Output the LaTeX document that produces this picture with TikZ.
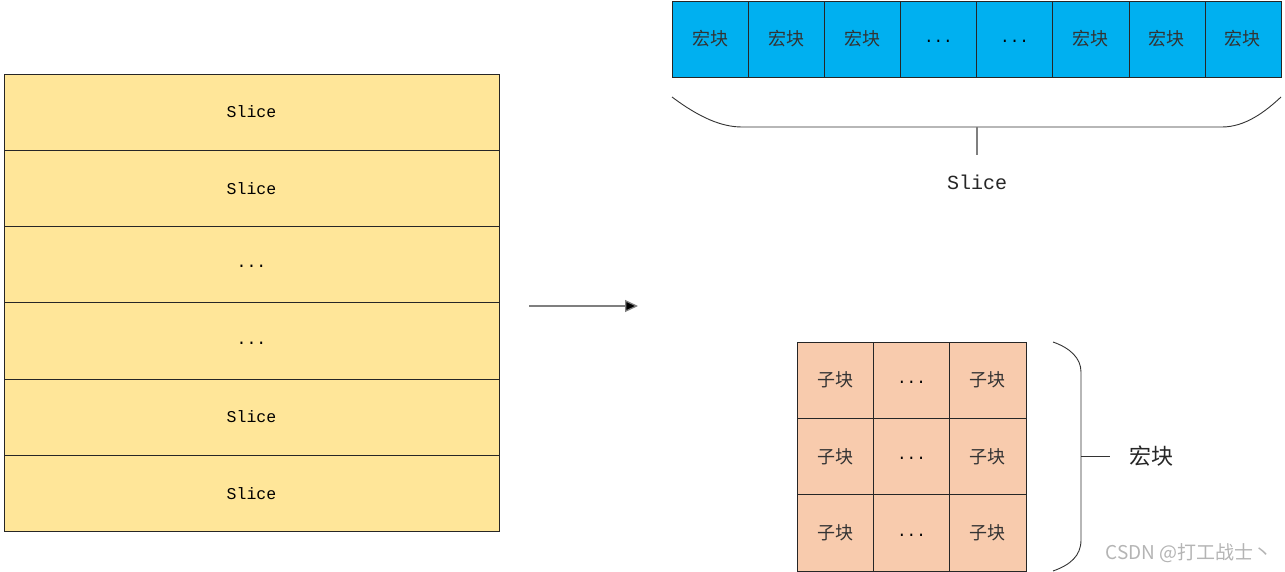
\documentclass[tikz,border=0pt]{standalone}
\usepackage{fontspec}
\newfontfamily\cjk{Noto Sans CJK SC}
\setmonofont{Liberation Mono}
\usetikzlibrary{arrows.meta}
\definecolor{sliceyellow}{HTML}{FFE699}
\definecolor{mbblue}{HTML}{00B0F0}
\definecolor{sborange}{HTML}{F8CBAD}
\definecolor{edgegray}{HTML}{7F7F7F}
\definecolor{wmgray}{HTML}{B4B4B4}
\tikzset{
  slicebox/.style={draw=black!85, fill=sliceyellow, minimum width=495pt, minimum height=76.2pt, inner sep=0pt, font=\ttfamily\fontsize{16.5}{16.5}\selectfont},
  mbbox/.style={draw=black!85, fill=mbblue, minimum width=76.125pt, minimum height=76pt, inner sep=0pt, font=\cjk\fontsize{18}{18}\selectfont, text=black!80},
  sbbox/.style={draw=black!85, fill=sborange, minimum width=76.33pt, minimum height=76.33pt, inner sep=0pt, font=\cjk\fontsize{18}{18}\selectfont, text=black!80},
  dotsfont/.style={font=\ttfamily\fontsize{16}{16}\selectfont, text=black},
  bracestyle/.style={draw=black!80, line width=0.9pt},
  tickstyle/.style={draw=edgegray, line width=1.2pt},
}
\begin{document}
\begin{tikzpicture}[x=1pt,y=-1pt]
\useasboundingbox (0,0) rectangle (1285,572);
% left stack
\node[slicebox] (s1) at (251.5,112.1) {Slice};
\node[slicebox] (s2) at (251.5,188.3) {Slice};
\node[slicebox] (s3) at (251.5,264.5) {\strut...};
\node[slicebox] (s4) at (251.5,340.7) {\strut...};
\node[slicebox] (s5) at (251.5,416.9) {Slice};
\node[slicebox] (s6) at (251.5,493.1) {Slice};
% arrow
\coordinate (a1) at (529,306);
\coordinate (a2) at (638,306);
\draw[draw=edgegray, line width=1.3pt, -{Triangle[length=13pt,width=12pt,fill=black]}] (a1) -- (a2);
% top macroblock row
\node[mbbox] (m1) at (710.06,39) {宏块};
\node[mbbox] (m2) at (786.19,39) {宏块};
\node[mbbox] (m3) at (862.31,39) {宏块};
\node[mbbox, dotsfont] (m4) at (938.44,39) {\strut...};
\node[mbbox, dotsfont] (m5) at (1014.56,39) {\strut...};
\node[mbbox] (m6) at (1090.69,39) {宏块};
\node[mbbox] (m7) at (1166.81,39) {宏块};
\node[mbbox] (m8) at (1242.94,39) {宏块};
% brace under the row
\coordinate (b1) at (672,97);
\coordinate (b2) at (742,127);
\coordinate (b3) at (1222,127);
\coordinate (b4) at (1281,97);
\coordinate (bt) at (977,127);
\coordinate (bb) at (977,155);
\draw[bracestyle] (b1) .. controls (700,118) and (722,127) .. (b2) -- (b3) .. controls (1245,127) and (1265,112) .. (b4);
\draw[tickstyle] (bt) -- (bb);
\node[font=\ttfamily\fontsize{20}{20}\selectfont, text=black!85] (sl) at (977,182) {Slice};
% sub-block grid
\node[sbbox] (g11) at (835.2,380.2) {子块};
\node[sbbox, dotsfont] (g12) at (911.5,380.2) {\strut...};
\node[sbbox] (g13) at (987.8,380.2) {子块};
\node[sbbox] (g21) at (835.2,456.5) {子块};
\node[sbbox, dotsfont] (g22) at (911.5,456.5) {\strut...};
\node[sbbox] (g23) at (987.8,456.5) {子块};
\node[sbbox] (g31) at (835.2,532.8) {子块};
\node[sbbox, dotsfont] (g32) at (911.5,532.8) {\strut...};
\node[sbbox] (g33) at (987.8,532.8) {子块};
% right brace
\coordinate (r1) at (1053,342);
\coordinate (r2) at (1081,372);
\coordinate (r3) at (1081,540);
\coordinate (r4) at (1053,571);
\coordinate (rm) at (1081,456);
\coordinate (rt) at (1110,456);
\draw[bracestyle] (r1) .. controls (1070,348) and (1081,358) .. (r2) -- (r3) .. controls (1081,556) and (1070,565) .. (r4);
\draw[bracestyle] (rm) -- (rt);
\node[font=\cjk\fontsize{22}{22}\selectfont, text=black!85] (mb) at (1151,456) {宏块};
% watermark
\node[font=\cjk\fontsize{19}{19}\selectfont, text=wmgray] (wm) at (1189,553) {CSDN @打工战士丶};
\end{tikzpicture}
\end{document}
